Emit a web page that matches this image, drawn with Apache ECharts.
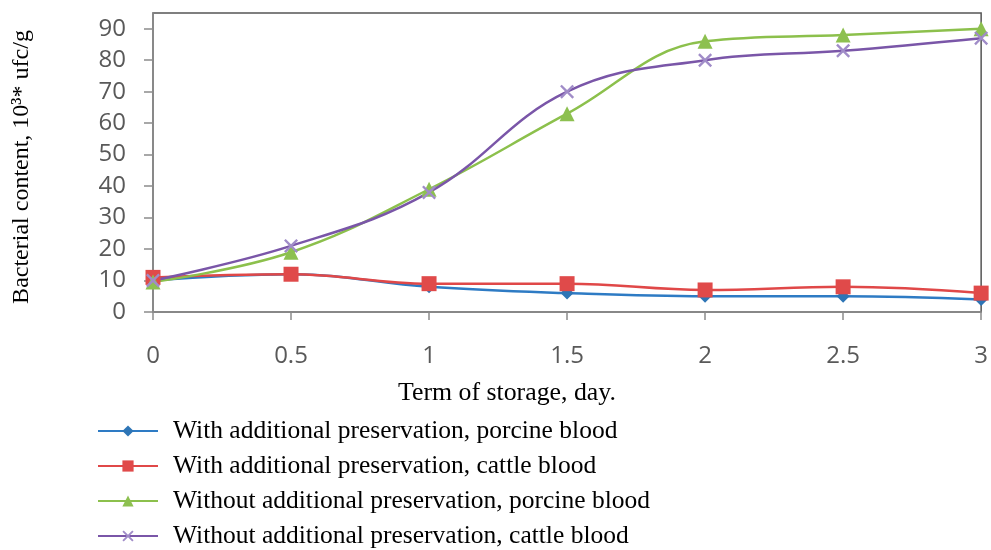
<!DOCTYPE html>
<html>
<head>
<meta charset="utf-8">
<script src="https://cdn.jsdelivr.net/npm/echarts@6/dist/echarts.min.js"></script>
<style>html,body{margin:0;padding:0;background:#fff}#c{width:991px;height:550px}</style>
</head>
<body>
<div id="c"></div>
<script>
const days = [0, 0.5, 1, 1.5, 2, 2.5, 3];
const seriesNames = [
  'With additional preservation, porcine blood',
  'With additional preservation, cattle blood',
  'Without additional preservation, porcine blood',
  'Without additional preservation, cattle blood'
];
const withPorcine = [10, 12, 8, 6, 5, 5, 4];
const withCattle = [11, 12, 9, 9, 7, 8, 6];
const withoutPorcine = [9.5, 19, 39, 63, 86, 88, 90];
const withoutCattle = [10, 21, 38, 70, 80, 83, 87];
const yTicks = [0, 10, 20, 30, 40, 50, 60, 70, 80, 90];

const X_PATH = 'path://M0,1.2L1.2,0L5,3.8L8.8,0L10,1.2L6.2,5L10,8.8L8.8,10L5,6.2L1.2,10L0,8.8L3.8,5Z';

function pairs(vals) { return days.map((d, i) => [d, vals[i]]); }

const chart = echarts.init(document.getElementById('c'));
const serifFont = '"Liberation Serif", "DejaVu Serif", serif';
const labelFont = '"Open Sans", "Liberation Sans", sans-serif';

function mk(name, vals, lineColor, symbol, symSize, symColor) {
  return {
    name: name, type: 'line', smooth: 0.4,
    data: pairs(vals),
    symbol: symbol, symbolSize: symSize,
    lineStyle: { color: lineColor, width: 2.5 },
    itemStyle: { color: symColor },
    emphasis: { disabled: true }
  };
}

chart.setOption({
  animation: false,
  grid: { left: 153, right: 6, top: 13, bottom: 238, show: true, borderColor: '#555', borderWidth: 1.5, backgroundColor: 'transparent' },
  xAxis: {
    type: 'value', min: 0, max: 3, interval: 0.5,
    axisLine: { lineStyle: { color: '#8c8c8c', width: 1.5 } },
    axisTick: { show: true, length: 8, lineStyle: { color: '#8c8c8c', width: 1.5 } },
    axisLabel: { color: '#595959', fontSize: 24, fontFamily: labelFont, margin: 32 },
    splitLine: { show: false }
  },
  yAxis: {
    type: 'value', min: 0, max: 95,
    axisLine: { show: true, lineStyle: { color: '#8c8c8c', width: 1.5 } },
    axisTick: { show: true, length: 9, customValues: yTicks, lineStyle: { color: '#8c8c8c', width: 1.5 } },
    axisLabel: { color: '#595959', fontSize: 24, fontFamily: labelFont, margin: 27, customValues: yTicks },
    splitLine: { show: false }
  },
  legend: {
    orient: 'vertical', left: 97, top: 418, height: 220, padding: 0,
    itemWidth: 60, itemHeight: 14, itemGap: 9,
    textStyle: { color: '#000', fontSize: 25.5, fontFamily: serifFont, lineHeight: 24, padding: [0, 0, 0, 10] },
    data: seriesNames
  },
  graphic: [
    { type: 'text', x: 22, y: 167, rotation: Math.PI / 2,
      style: { text: 'Bacterial content, 10³* ufc/g', font: '24px ' + serifFont, fill: '#000', align: 'center', verticalAlign: 'middle' } },
    { type: 'text', x: 507, y: 393,
      style: { text: 'Term of storage, day.', font: '25.8px ' + serifFont, fill: '#000', align: 'center', verticalAlign: 'middle' } }
  ],
  series: [
    mk(seriesNames[0], withPorcine, '#2E7BC4', 'diamond', 13, '#2E75B6'),
    mk(seriesNames[1], withCattle, '#E04848', 'rect', 15, '#E04A4A'),
    mk(seriesNames[2], withoutPorcine, '#8CC04C', 'triangle', 15, '#8DC050'),
    mk(seriesNames[3], withoutCattle, '#7A56A8', X_PATH, 14, '#A08CC8')
  ]
});
</script>
</body>
</html>
